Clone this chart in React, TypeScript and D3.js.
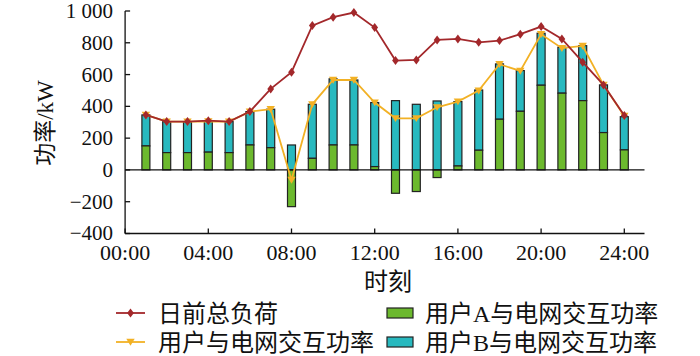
import React from "react";
import * as d3 from "d3";

const hours = [1, 2, 3, 4, 5, 6, 7, 8, 9, 10, 11, 12, 13, 14, 15, 16, 17, 18, 19, 20, 21, 22, 23, 24];
const totalLoad = [346, 304, 304, 310, 304, 367, 510, 615, 908, 961, 990, 896, 688, 692, 818, 824, 803, 814, 854, 902, 824, 678, 535, 342];
const userGrid = [346, 304, 304, 306, 304, 367, 382, -63, 413, 566, 566, 424, 325, 325, 394, 430, 499, 665, 623, 854, 766, 780, 535, 340];
const userA = [151, 109, 109, 112, 109, 157, 140, -231, 73, 157, 157, 21, -147, -136, -48, 25, 124, 319, 369, 533, 483, 436, 235, 126];
const userB = [195, 195, 195, 194, 195, 210, 242, 157, 340, 416, 409, 403, 436, 413, 434, 405, 379, 348, 256, 327, 289, 346, 300, 209];
const xTicks = [0, 4, 8, 12, 16, 20, 24];
const xTickLabels = ["00:00", "04:00", "08:00", "12:00", "16:00", "20:00", "24:00"];
const yTicks = [-400, -200, 0, 200, 400, 600, 800, 1000];
const yTickLabels = ["\u2212400", "\u2212200", "0", "200", "400", "600", "800", "1 000"];
const legendNames = ["日前总负荷", "用户与电网交互功率", "用户A与电网交互功率", "用户B与电网交互功率"];

const FONT = "'Liberation Serif', 'Times New Roman', 'Noto Sans CJK SC', serif";
const RED = "#a3282b";
const YEL = "#f2b125";
const GREEN = "#6cb92e";
const CYAN = "#28b9bf";

export default function App() {
  const W = 700, H = 356;
  const x = d3.scaleLinear().domain([0, 25]).range([125.1, 645.1]);
  const y = d3.scaleLinear().domain([-400, 1000]).range([233.5, 11]);
  const barW = 8;

  const lineGen = d3.line<number>().x((_, i) => x(hours[i])).y((d) => y(d));

  const diamond = (cx: number, cy: number, r: number) =>
    `M${cx},${cy - r}L${cx + r * 0.75},${cy}L${cx},${cy + r}L${cx - r * 0.75},${cy}Z`;
  const tri = (cx: number, cy: number, r: number) =>
    `M${cx - r},${cy - r * 0.75}L${cx + r},${cy - r * 0.75}L${cx},${cy + r * 0.9}Z`;

  const bars = hours.map((h, i) => {
    const a = userA[i];
    const b = userB[i];
    const cx = x(h);
    let aTop, aBot, bTop, bBot;
    if (a >= 0) {
      aBot = 0; aTop = a; bBot = a; bTop = a + b;
    } else {
      aBot = a; aTop = 0; bBot = 0; bTop = b;
    }
    return (
      <g key={h}>
        <rect x={cx - barW / 2} y={y(bTop)} width={barW} height={y(bBot) - y(bTop)} fill={CYAN} stroke="#222" strokeWidth={1.2} />
        <rect x={cx - barW / 2} y={y(aTop)} width={barW} height={y(aBot) - y(aTop)} fill={GREEN} stroke="#222" strokeWidth={1.2} />
      </g>
    );
  });

  const x0 = x(0);
  const xEnd = 644.5;

  return (
    <svg width={W} height={H} style={{ position: "absolute", left: 0, top: 0, background: "#fff" }} fontFamily={FONT}>
      {bars}
      <line x1={x0} x2={xEnd} y1={y(0)} y2={y(0)} stroke="#111" strokeWidth={1.3} />
      <path d={lineGen(userGrid) || ""} fill="none" stroke={YEL} strokeWidth={1.8} />
      {userGrid.map((v, i) => (
        <path key={i} d={tri(x(hours[i]), y(v), 4.2)} fill={YEL} />
      ))}
      <path d={lineGen(totalLoad) || ""} fill="none" stroke={RED} strokeWidth={1.8} />
      {totalLoad.map((v, i) => (
        <path key={i} d={diamond(x(hours[i]), y(v), 4.5)} fill={RED} />
      ))}
      <line x1={x0} x2={x0} y1={y(1000)} y2={y(-400)} stroke="#111" strokeWidth={1.3} />
      <line x1={x0} x2={xEnd} y1={y(-400)} y2={y(-400)} stroke="#111" strokeWidth={1.3} />
      {yTicks.map((t, i) => (
        <g key={t}>
          <line x1={x0} x2={x0 + 5} y1={y(t)} y2={y(t)} stroke="#111" strokeWidth={1.3} />
          <text x={113} y={y(t)} dy="0.33em" textAnchor="end" fontSize={21} fill="#111">{yTickLabels[i]}</text>
        </g>
      ))}
      {xTicks.map((t, i) => (
        <g key={t}>
          <line x1={x(t)} x2={x(t)} y1={y(-400)} y2={y(-400) - 5} stroke="#111" strokeWidth={1.3} />
          <text x={x(t)} y={260} textAnchor="middle" fontSize={22} fill="#111">{xTickLabels[i]}</text>
        </g>
      ))}
      <text x={388} y={290} textAnchor="middle" fontSize={24} fill="#111">时刻</text>
      <text transform="translate(53,123) rotate(-90)" textAnchor="middle" fontSize={23} fill="#111">功率/kW</text>
      <g>
        <line x1={116} x2={145} y1={313} y2={313} stroke={RED} strokeWidth={1.8} />
        <path d={diamond(130.5, 313, 4.5)} fill={RED} />
        <text x={158} y={321.5} fontSize={24} fill="#111">{legendNames[0]}</text>
        <line x1={116} x2={145} y1={342} y2={342} stroke={YEL} strokeWidth={1.8} />
        <path d={tri(130.5, 342, 4.2)} fill={YEL} />
        <text x={158} y={350.5} fontSize={24} fill="#111">{legendNames[1]}</text>
        <rect x={387} y={308} width={26} height={10} fill={GREEN} stroke="#222" strokeWidth={1.2} />
        <text x={425} y={321.5} fontSize={24} fill="#111">{legendNames[2]}</text>
        <rect x={387} y={337} width={26} height={10} fill={CYAN} stroke="#222" strokeWidth={1.2} />
        <text x={425} y={350.5} fontSize={24} fill="#111">{legendNames[3]}</text>
      </g>
    </svg>
  );
}
